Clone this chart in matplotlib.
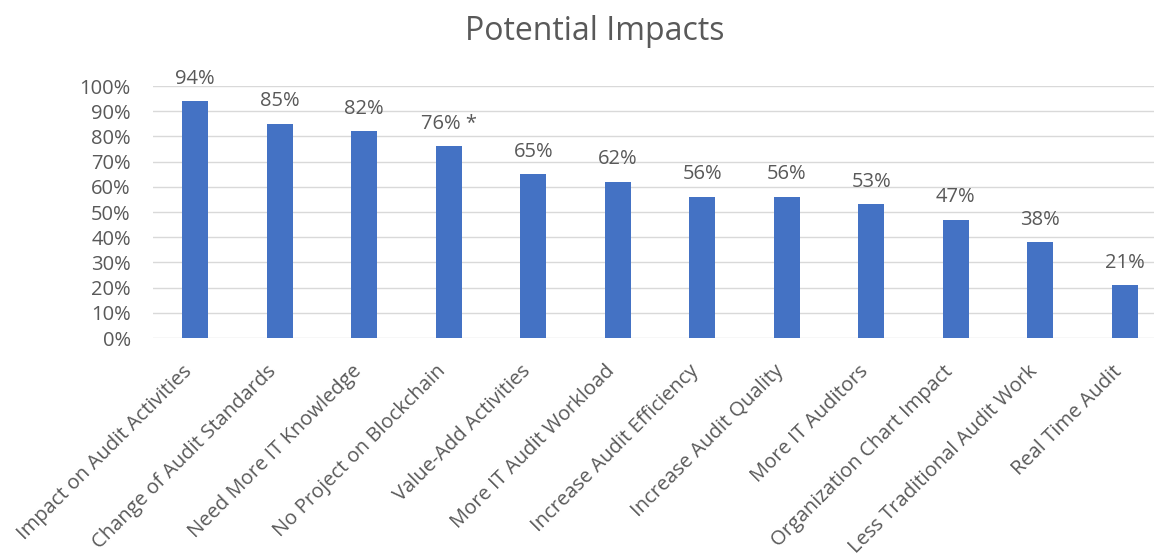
import matplotlib
matplotlib.use("Agg")
import matplotlib.pyplot as plt
import matplotlib.transforms as mtransforms
from matplotlib.ticker import PercentFormatter

categories = ["Impact on Audit Activities", "Change of Audit Standards", "Need More IT Knowledge",
              "No Project on Blockchain", "Value-Add Activities", "More IT Audit Workload",
              "Increase Audit Efficiency", "Increase Audit Quality", "More IT Auditors",
              "Organization Chart Impact", "Less Traditional Audit Work", "Real Time Audit"]
values = [0.94, 0.85, 0.82, 0.76, 0.65, 0.62, 0.56, 0.56, 0.53, 0.47, 0.38, 0.21]
labels = ["94%", "85%", "82%", "76% *", "65%", "62%", "56%", "56%", "53%", "47%", "38%", "21%"]
yticks = [0, 0.1, 0.2, 0.3, 0.4, 0.5, 0.6, 0.7, 0.8, 0.9, 1.0]

plt.rcParams['font.family'] = ['Open Sans', 'DejaVu Sans']
gray = "#595959"

fig = plt.figure(figsize=(11.54, 5.55), dpi=100)
W, H = 1154, 555
left, right, top, bottom = 153, 1167, 86, 338
ax = fig.add_axes([left / W, 1 - bottom / H, (right - left) / W, (bottom - top) / H])

x = list(range(len(categories)))
ax.bar(x, values, width=0.31, color="#4472C4", zorder=3)
for xi, v, lab in zip(x, values, labels):
    ax.annotate(lab, (xi, v), xytext=(0, 9), textcoords="offset points",
                ha="center", va="bottom", fontsize=14.5, color=gray)

ax.set_xlim(-0.5, len(categories) - 0.5)
ax.set_ylim(0, 1.0)
ax.set_yticks(yticks)
ax.yaxis.set_major_formatter(PercentFormatter(1.0, decimals=0))
ax.grid(axis="y", color="#D9D9D9", linewidth=1, zorder=0)
for s in ax.spines.values():
    s.set_visible(False)
ax.tick_params(axis="y", length=0, colors=gray, labelsize=14.5, pad=16)
ax.tick_params(axis="x", length=0, colors=gray, labelsize=14.5, pad=22)
ax.set_xticks(x)
ax.set_xticklabels(categories, rotation=45, ha="right", va="center", rotation_mode="anchor")
off = mtransforms.ScaledTranslation(-6 / 100, 0, fig.dpi_scale_trans)
for t in ax.get_xticklabels():
    t.set_color(gray)
    t.set_transform(t.get_transform() + off)

fig.text(595 / W, 1 - 32 / H, "Potential Impacts", ha="center", va="center", fontsize=23, color=gray)

fig.savefig("out.png", dpi=100, facecolor="white")
